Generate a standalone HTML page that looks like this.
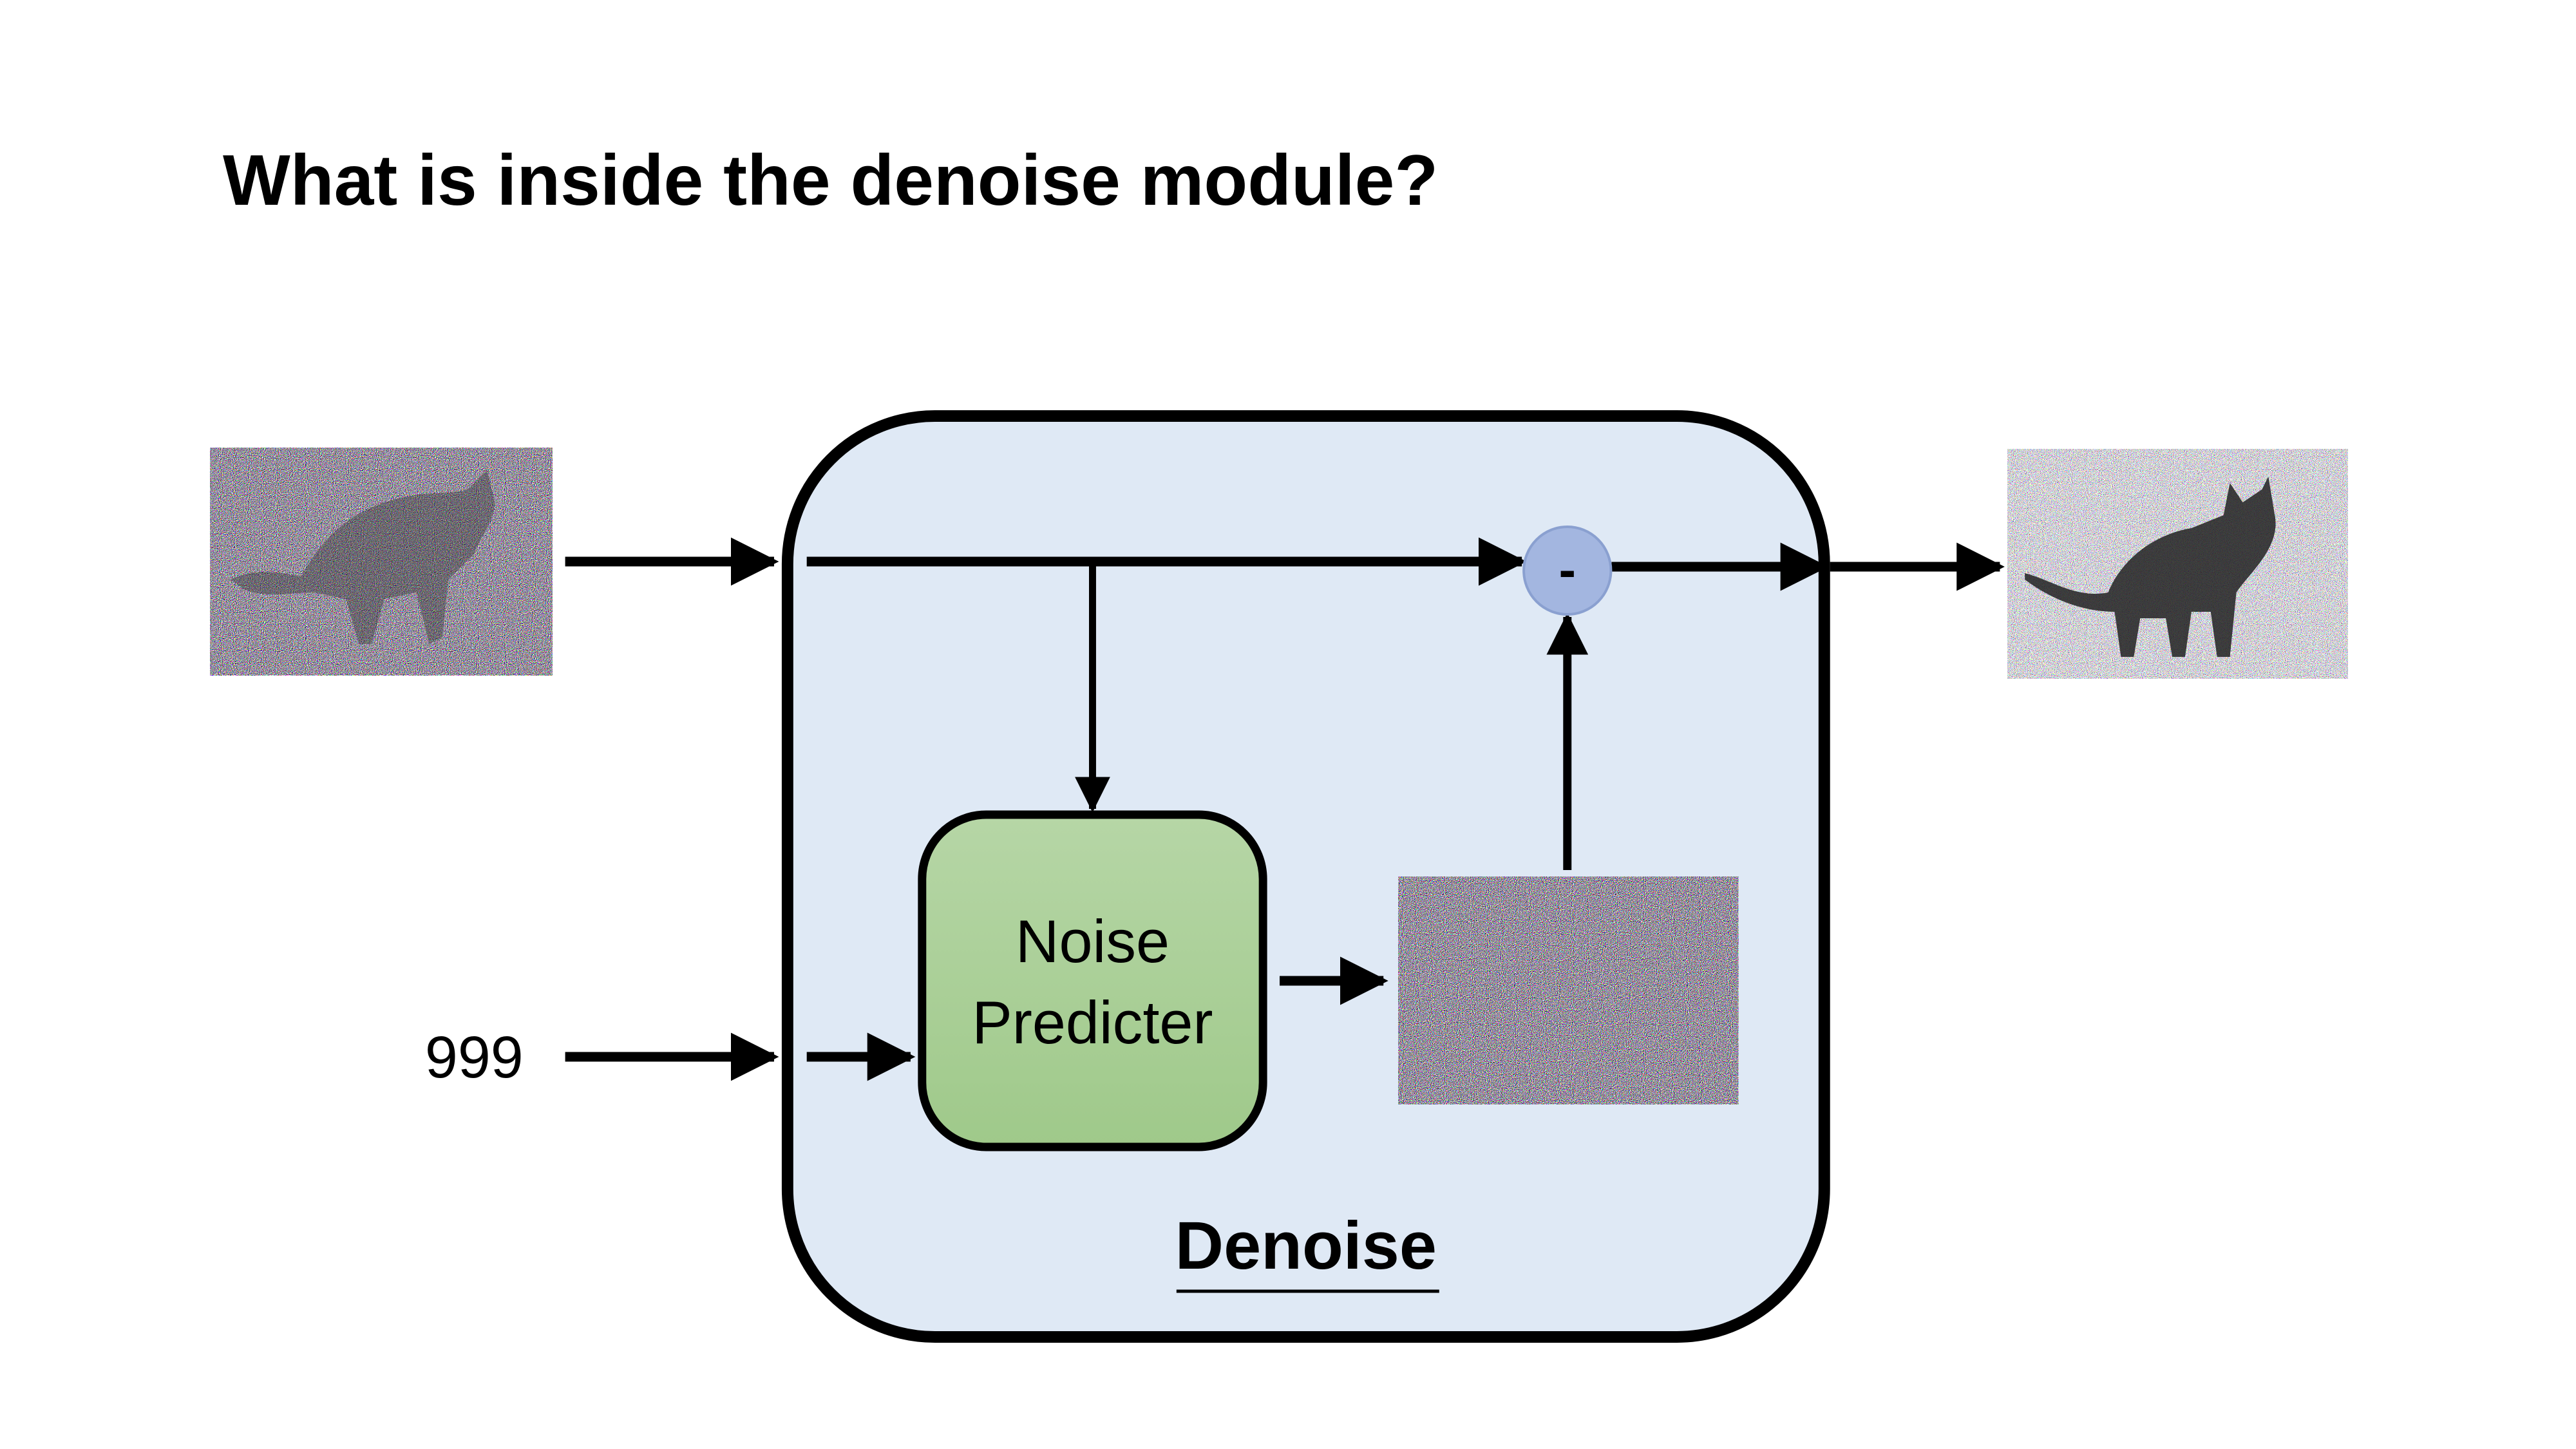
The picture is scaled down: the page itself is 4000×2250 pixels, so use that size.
<!DOCTYPE html>
<html><head><meta charset="utf-8"><style>
html,body{margin:0;padding:0;background:#fff;}
svg{display:block;}
</style></head><body>
<svg width="4000" height="2250" viewBox="0 0 4000 2250" xmlns="http://www.w3.org/2000/svg">
<defs>
<filter id="nz" x="0" y="0" width="100%" height="100%" color-interpolation-filters="sRGB">
<feTurbulence type="fractalNoise" baseFrequency="0.95" numOctaves="1" seed="3" result="t"/>
<feColorMatrix in="t" type="matrix" values="6 0 0 0 -2.35  0 6 0 0 -2.4  0 0 6 0 -2.3  0 0 0 0 1"/>
</filter>
<filter id="nz2" x="0" y="0" width="100%" height="100%" color-interpolation-filters="sRGB">
<feTurbulence type="fractalNoise" baseFrequency="0.95" numOctaves="1" seed="7" result="t"/>
<feColorMatrix in="t" type="matrix" values="4 0 0 0 -1.05  0 4 0 0 -1.05  0 0 4 0 -1.0  0 0 0 0 1"/>
</filter>
<linearGradient id="g" x1="0" y1="0" x2="0" y2="1">
<stop offset="0" stop-color="#b6d6a6"/><stop offset="1" stop-color="#9fc98a"/>
</linearGradient>
<marker id="ah" viewBox="0 0 10 10" refX="9" refY="5" markerWidth="5" markerHeight="5" orient="auto">
<path d="M0,0 L10,5 L0,10 z" fill="#000"/>
</marker>
</defs>

<text x="346" y="318" font-family="Liberation Sans, sans-serif" font-weight="bold" font-size="111" fill="#000">What is inside the denoise module?</text>

<g transform="scale(0.995,1)">
<rect x="1229" y="646" width="1618" height="1430" rx="230" ry="230" fill="#dfe9f5" stroke="#000" stroke-width="18"/>

<rect x="328" y="695" width="534" height="354" filter="url(#nz)"/>
<path d="M360,900 C400,880 440,890 470,895 C500,840 540,800 600,780 C660,760 700,770 730,760 L760,730 L770,770 C780,800 750,830 740,860 L700,900 L690,990 L670,1000 L650,920 L600,930 L580,1000 L560,1000 L540,930 L490,920 C450,920 420,930 380,915 Z" fill="#333" opacity="0.4"/>

<rect x="3133" y="697" width="531" height="357" filter="url(#nz2)"/>
<path d="M3160,890 C3200,900 3240,930 3290,920 C3310,870 3360,830 3420,820 L3470,800 L3480,750 L3500,780 L3530,760 L3540,740 L3550,800 C3560,850 3510,890 3490,920 L3480,1020 L3460,1020 L3450,950 L3420,950 L3410,1020 L3390,1020 L3380,960 L3340,960 L3330,1020 L3310,1020 L3300,950 C3250,950 3200,930 3160,900 Z" fill="#222" opacity="0.85"/>

<rect x="2182" y="1361" width="531" height="354" filter="url(#nz)"/>

<rect x="1439" y="1265" width="532" height="516" rx="100" ry="100" fill="url(#g)" stroke="#000" stroke-width="13"/>
<text x="1705" y="1494" text-anchor="middle" font-family="Liberation Sans, sans-serif" font-size="94" fill="#000">Noise</text>
<text x="1705" y="1620" text-anchor="middle" font-family="Liberation Sans, sans-serif" font-size="94" fill="#000">Predicter</text>

<text x="740" y="1673" text-anchor="middle" font-family="Liberation Sans, sans-serif" font-size="92" fill="#000">999</text>

<g stroke="#000" stroke-width="15" fill="none">
<line x1="882" y1="872" x2="1208" y2="872" marker-end="url(#ah)"/>
<line x1="1259" y1="872" x2="2375" y2="872" marker-end="url(#ah)"/>
<line x1="1705" y1="872" x2="1705" y2="1256" stroke-width="11" marker-end="url(#ah)"/>
<line x1="882" y1="1641" x2="1208" y2="1641" marker-end="url(#ah)"/>
<line x1="1259" y1="1641" x2="1421" y2="1641" marker-end="url(#ah)"/>
<line x1="1997" y1="1523" x2="2159" y2="1523" marker-end="url(#ah)"/>
<line x1="2446" y1="1351" x2="2446" y2="958" stroke-width="13" marker-end="url(#ah)"/>
<line x1="2515" y1="880" x2="2846" y2="880" marker-end="url(#ah)"/>
<line x1="2856" y1="880" x2="3121" y2="880" marker-end="url(#ah)"/>
</g>

<circle cx="2446" cy="886" r="68" fill="#a3b6e0" stroke="#8aa0d0" stroke-width="4"/>
<text x="2446" y="912" text-anchor="middle" font-family="Liberation Sans, sans-serif" font-weight="bold" font-size="80" fill="#000">-</text>

<text x="2038" y="1970" text-anchor="middle" font-family="Liberation Sans, sans-serif" font-weight="bold" font-size="105" fill="#000">Denoise</text>
<line x1="1836" y1="2005" x2="2246" y2="2005" stroke="#000" stroke-width="5"/>
</g>
</svg>
</body></html>
